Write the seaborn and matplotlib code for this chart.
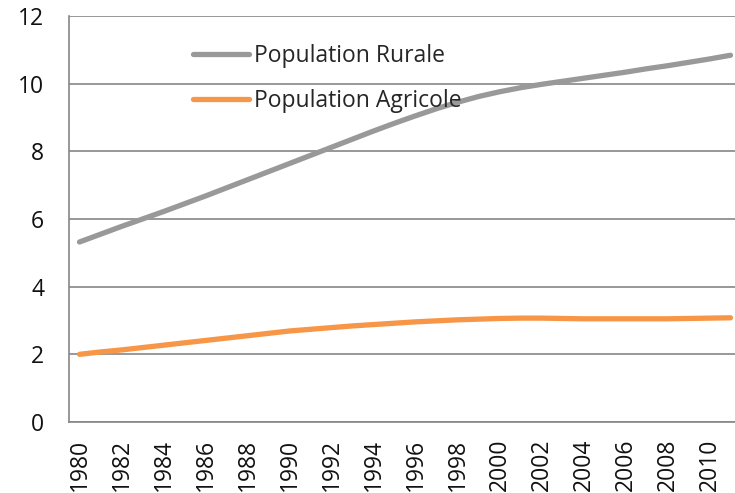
import pandas as pd
import seaborn as sns
import matplotlib.pyplot as plt
import numpy as np

years = list(range(1980, 2012))
rurale = [5.32, 5.55, 5.78, 6.00, 6.22, 6.45, 6.68, 6.92, 7.16, 7.40,
          7.64, 7.88, 8.12, 8.36, 8.60, 8.83, 9.05, 9.26, 9.45, 9.62,
          9.76, 9.88, 9.98, 10.07, 10.16, 10.25, 10.34, 10.44, 10.53, 10.63,
          10.73, 10.84]
agricole = [2.00, 2.07, 2.13, 2.20, 2.27, 2.34, 2.41, 2.48, 2.55, 2.62,
            2.69, 2.74, 2.79, 2.84, 2.88, 2.92, 2.96, 2.99, 3.02, 3.04,
            3.06, 3.07, 3.07, 3.06, 3.05, 3.05, 3.05, 3.05, 3.05, 3.06,
            3.07, 3.08]
series_names = ["Population Rurale", "Population Agricole"]
colors = ["#999999", "#F79646"]

df = pd.concat([
    pd.DataFrame({"annee": years, "valeur": rurale, "serie": series_names[0]}),
    pd.DataFrame({"annee": years, "valeur": agricole, "serie": series_names[1]}),
], ignore_index=True)

sns.set_style("white")
plt.rcParams["font.family"] = ["Open Sans", "DejaVu Sans"]
axis_col = "#868686"
fs = 16.5

fig = plt.figure(figsize=(7.35, 4.93), dpi=100)
ax = fig.add_axes([69 / 735, 71 / 493, 672 / 735, 406 / 493])

sns.lineplot(data=df, x="annee", y="valeur", hue="serie", hue_order=series_names,
             palette=colors, linewidth=3.8, ax=ax, solid_capstyle="round")

ax.set_xlim(1979.5, 2011.5)
ax.set_ylim(0, 12)
ax.set_yticks(range(0, 13, 2))
ax.set_xticks(years[::2])
ax.set_xticklabels([str(y) for y in years[::2]], rotation=90)
ax.set_xticks(np.arange(1979.5, 2012, 1), minor=True)
ax.tick_params(axis="x", which="major", length=0, pad=12, labelsize=fs, labelcolor="#111111")
ax.tick_params(axis="x", which="minor", length=6, width=1.2, color=axis_col, direction="out")
ax.tick_params(axis="y", length=6, width=1.2, color=axis_col, direction="out", pad=12,
               labelsize=fs, labelcolor="#111111")
ax.set_xlabel("")
ax.set_ylabel("")
ax.yaxis.grid(True, color=axis_col, linewidth=1.2)
ax.set_axisbelow(True)
for side in ["top", "right"]:
    ax.spines[side].set_visible(False)
for side in ["left", "bottom"]:
    ax.spines[side].set_color(axis_col)
    ax.spines[side].set_linewidth(1.2)

ax.legend(loc="upper left", bbox_to_anchor=(193 / 735, 1 - 44 / 493),
          bbox_transform=fig.transFigure, frameon=False, fontsize=fs,
          handlelength=2.45, handletextpad=0.2, labelspacing=0.9, borderpad=0,
          borderaxespad=0)

plt.savefig("out.png", dpi=100)
